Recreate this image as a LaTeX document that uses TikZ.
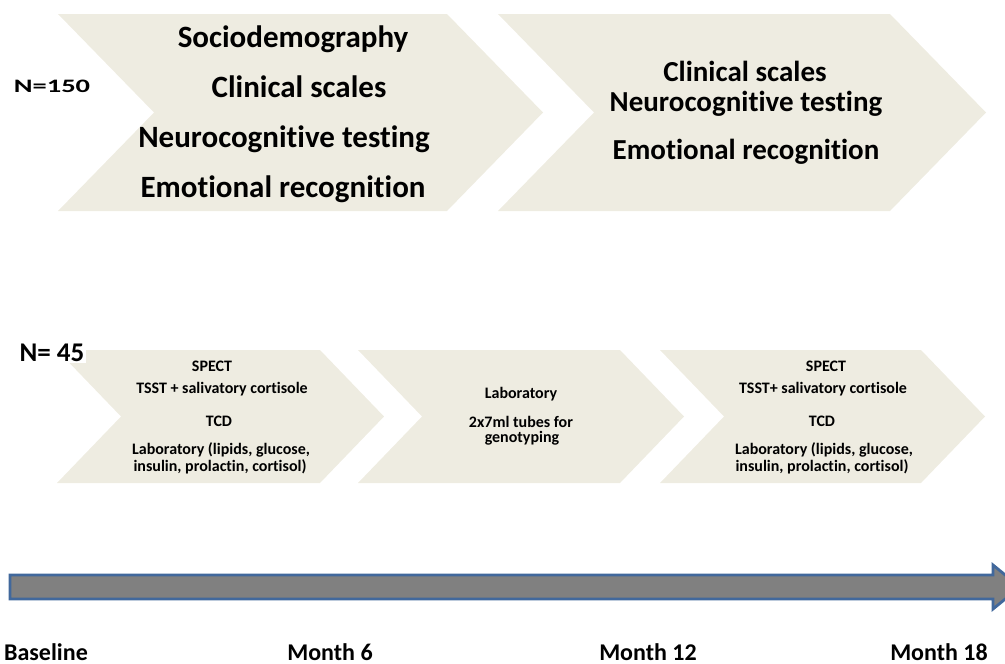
\documentclass[tikz,border=0pt]{standalone}
\usepackage{fontspec}
\setmainfont{Carlito}[Ligatures=NoCommon]
\definecolor{chev}{HTML}{EEECE1}
\definecolor{axisfill}{HTML}{808080}
\definecolor{axisedge}{HTML}{41689C}
\newcommand{\chevshape}[5]{% x0, top, width, height, depth
  \fill[chev] (#1,#2) -- ++(#3,0) -- ++(#5,#4/2) -- ++(-#5,#4/2) -- ++(-#3,0) -- ++(#5,-#4/2) -- cycle;}
\begin{document}
\begin{tikzpicture}[x=1pt,y=-1pt,
  txt/.style={anchor=base, inner sep=0pt, text=black},
  bigL/.style={txt, font=\fontsize{31}{36}\selectfont\bfseries},
  bigR/.style={txt, font=\fontsize{29}{34}\selectfont\bfseries},
  small/.style={txt, font=\fontsize{16}{19}\selectfont\bfseries},
  tick/.style={txt, font=\fontsize{24}{29}\selectfont\bfseries}]
\useasboundingbox (0,0) rectangle (1005,664);

% top chevrons
\chevshape{58}{14}{389}{197}{96}
\chevshape{498}{14}{392}{197}{96}
% bottom chevrons
\chevshape{57}{350}{263}{133}{64}
\chevshape{358}{350}{262}{133}{64}
\chevshape{660}{350}{261}{133}{64}

% N labels
\node[txt, font=\fontsize{19}{23}\selectfont\bfseries] (n150) at (52,92) {\scalebox{1.5}[1]{N=150}};
\node[txt, font=\fontsize{27}{32}\selectfont\bfseries, fill=white, inner sep=2pt] (n45) at (52,361) {N= 45};

% top left texts
\node[bigL] (a1) at (293,47) {Sociodemography};
\node[bigL] (a2) at (299,97) {Clinical scales};
\node[bigL] (a3) at (284,147) {Neurocognitive testing};
\node[bigL] (a4) at (283,197) {Emotional recognition};

% top right texts
\node[bigR] (b1) at (745,81) {Clinical scales};
\node[bigR] (b2) at (746,111) {Neurocognitive testing};
\node[bigR] (b3) at (746,159) {Emotional recognition};

% bottom chevron 1
\node[small] (c1) at (212,371) {SPECT};
\node[small] (c2) at (222,393) {TSST + salivatory cortisole};
\node[small] (c3) at (219,426) {TCD};
\node[small] (c4) at (221,454) {Laboratory (lipids, glucose,};
\node[small] (c5) at (220,471) {insulin, prolactin, cortisol)};

% bottom chevron 2
\node[small] (d1) at (521,398) {Laboratory};
\node[small] (d2) at (521,427) {2x7ml tubes for};
\node[small] (d3) at (522,442) {genotyping};

% bottom chevron 3
\node[small] (e1) at (826,371) {SPECT};
\node[small] (e2) at (823,393) {TSST+ salivatory cortisole};
\node[small] (e3) at (822,426) {TCD};
\node[small] (e4) at (824,454) {Laboratory (lipids, glucose,};
\node[small] (e5) at (822,471) {insulin, prolactin, cortisol)};

% timeline arrow
\begin{scope}
\clip (0,0) rectangle (1005,664);
\filldraw[fill=axisfill, draw=axisedge, line width=2.8pt, line join=miter]
  (10,575) -- (993,575) -- (993,565) -- (1020,587) -- (993,609) -- (993,599) -- (10,599) -- cycle;
\end{scope}

% timeline labels
\node[tick, anchor=base east] (t0) at (88,660) {Baseline};
\node[tick] (t6) at (330,660) {Month 6};
\node[tick] (t12) at (648,660) {Month 12};
\node[tick] (t18) at (939,660) {Month 18};
\end{tikzpicture}
\end{document}
